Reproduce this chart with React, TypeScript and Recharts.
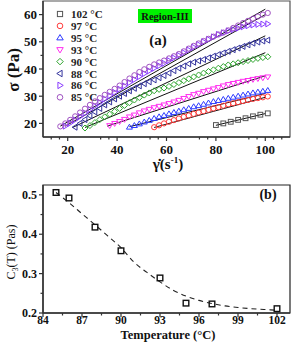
import React from "react";
import { ComposedChart, Scatter, Line, XAxis, YAxis, ReferenceArea, Customized } from "recharts";

// ---- panel (a): shear stress vs shear rate ----
const shearRate = [17, 19, 21, 23, 25, 27, 29, 31, 33, 35, 37, 39, 41, 43, 45, 47, 49, 51, 53, 55, 57, 59, 61, 63, 65, 67, 69, 71, 73, 75, 77, 79, 81, 83, 85, 87, 89, 91, 93, 95, 97, 99, 101];
const shearRate102 = [80, 83, 86, 89, 92, 95, 98, 101];

const stress85 = [18.9, 20.0, 21.3, 22.6, 24.0, 25.4, 26.8, 28.1, 29.3, 30.5, 31.6, 32.7, 33.9, 35.2, 36.5, 37.7, 38.9, 39.9, 40.8, 41.7, 42.4, 43.1, 43.9, 44.7, 45.5, 46.5, 47.5, 48.5, 49.4, 50.3, 51.1, 51.9, 52.7, 53.4, 54.2, 55.1, 56.0, 56.9, 57.7, 58.5, 59.3, 60.0, 60.6];
const stress86 = [19.0, 20.1, 21.3, 22.5, 23.8, 25.1, 26.4, 27.7, 29.0, 30.2, 31.4, 32.6, 33.8, 35.0, 36.1, 37.2, 38.3, 39.3, 40.3, 41.2, 42.1, 43.1, 44.1, 45.0, 46.0, 47.0, 48.0, 49.0, 50.0, 50.9, 51.8, 52.7, 53.3, 54.0, 54.5, 55.0, 55.5, 55.9, 56.2, 56.4, 56.5, 56.6];
const stress88 = [18.6, 20.0, 21.4, 22.8, 24.2, 25.5, 26.8, 27.9, 29.0, 30.0, 31.0, 32.0, 32.9, 33.8, 34.6, 35.3, 36.0, 36.8, 37.6, 38.5, 39.4, 40.3, 41.1, 41.9, 42.5, 43.0, 43.5, 44.1, 44.7, 45.3, 45.9, 46.5, 47.1, 47.7, 48.3, 48.9, 49.5, 49.9, 50.3, 50.6];
const stress90 = [18.3, 19.2, 20.3, 21.4, 22.4, 23.4, 24.4, 25.5, 26.6, 27.6, 28.6, 29.5, 30.4, 31.2, 32.0, 32.5, 33.0, 33.6, 34.3, 35.0, 35.7, 36.4, 37.1, 37.8, 38.5, 39.1, 39.7, 40.3, 40.9, 41.5, 41.9, 42.3, 42.7, 43.1, 43.5, 43.9, 44.2, 44.5];
const stress93 = [19.2, 20.0, 20.7, 21.5, 22.4, 23.1, 23.9, 24.6, 25.2, 25.8, 26.3, 26.8, 27.3, 27.9, 28.5, 29.2, 29.9, 30.6, 31.1, 31.7, 32.2, 32.7, 33.2, 33.8, 34.3, 34.7, 35.1, 35.5, 35.8, 36.2, 36.5, 36.8, 37.1];
const stress95 = [18.6, 19.2, 19.8, 20.5, 21.1, 21.8, 22.4, 22.9, 23.5, 24.0, 24.5, 25.0, 25.5, 26.1, 26.5, 27.0, 27.5, 28.0, 28.4, 28.8, 29.2, 29.6, 30.0, 30.4, 30.8, 31.2, 31.5, 31.8, 32.1];
const stress97 = [18.6, 19.3, 20.0, 20.6, 21.2, 21.8, 22.4, 22.9, 23.5, 24.0, 24.5, 25.0, 25.5, 26.0, 26.5, 27.0, 27.4, 27.8, 28.2, 28.6, 29.0, 29.3, 29.6, 29.9];
const stress102 = [19.4, 20.0, 20.6, 21.3, 21.9, 22.6, 23.2, 23.7];

// linear fits: start and end of each black line
const fitX0 = { 85: 17, 86: 19, 88: 22, 90: 27, 93: 36, 95: 45, 97: 55, 102: 80 };
const fitY0 = { 85: 19.0, 86: 19.0, 88: 18.5, 90: 18.5, 93: 19.0, 95: 18.8, 97: 18.5, 102: 19.3 };
const fitX1 = { 85: 100, 86: 100, 88: 100, 90: 100, 93: 100, 95: 100, 97: 100, 102: 100 };
const fitY1 = { 85: 62.0, 86: 60.0, 88: 52.2, 90: 46.0, 93: 37.5, 95: 31.0, 97: 29.6, 102: 23.6 };

const xMajorA = [20, 40, 60, 80, 100];
const yMajorA = [20, 30, 40, 50, 60];

// ---- panel (b): C3(T) vs temperature ----
const tempB = [85, 86, 88, 90, 93, 95, 97, 102];
const c3 = [0.506, 0.492, 0.418, 0.358, 0.289, 0.225, 0.223, 0.211];
const fitTemp = [85, 86, 87, 88, 89, 90, 91, 92, 93, 94, 95, 96, 97, 98, 99, 100, 101, 102];
const fitC3 = [0.506, 0.48, 0.452, 0.424, 0.395, 0.366, 0.329, 0.303, 0.279, 0.258, 0.243, 0.232, 0.224, 0.218, 0.214, 0.211, 0.209, 0.207];
const xMajorB = [84, 87, 90, 93, 96, 99, 102];
const yMajorB = [0.2, 0.3, 0.4, 0.5];

type Kind = "square" | "circle" | "up" | "down" | "diamond" | "left" | "right";

const series: { temp: number; label: string; color: string; kind: Kind; x: number[]; y: number[] }[] = [
  { temp: 102, label: "102 °C", color: "#555555", kind: "square", x: shearRate102, y: stress102 },
  { temp: 97, label: "97 °C", color: "#ff3b3b", kind: "circle", x: shearRate.slice(19), y: stress97 },
  { temp: 95, label: "95 °C", color: "#2f3bff", kind: "up", x: shearRate.slice(14), y: stress95 },
  { temp: 93, label: "93 °C", color: "#ff2ef0", kind: "down", x: shearRate.slice(10), y: stress93 },
  { temp: 90, label: "90 °C", color: "#2fa52f", kind: "diamond", x: shearRate.slice(5), y: stress90 },
  { temp: 88, label: "88 °C", color: "#34349e", kind: "left", x: shearRate.slice(3), y: stress88 },
  { temp: 86, label: "86 °C", color: "#8a3cff", kind: "right", x: shearRate.slice(1), y: stress86 },
  { temp: 85, label: "85 °C", color: "#a052c2", kind: "circle", x: shearRate, y: stress85 },
];

const serif = '"Liberation Serif", serif';
const axisColor = "#333";
const txt = (size: number, weight = 700): React.CSSProperties => ({ fontFamily: serif, fontSize: size, fontWeight: weight });

function Marker({ cx, cy, kind, color, r = 2.5, sw = 1 }: any) {
  if (cx == null || cy == null) return null;
  const st = { fill: "none", stroke: color, strokeWidth: sw };
  const k = r * 1.25;
  switch (kind as Kind) {
    case "square":
      return <rect x={cx - r} y={cy - r} width={2 * r} height={2 * r} {...st} />;
    case "circle":
      return <circle cx={cx} cy={cy} r={r + 0.2} {...st} />;
    case "up":
      return <polygon points={`${cx},${cy - k} ${cx + k},${cy + r * 0.8} ${cx - k},${cy + r * 0.8}`} {...st} />;
    case "down":
      return <polygon points={`${cx},${cy + k} ${cx + k},${cy - r * 0.8} ${cx - k},${cy - r * 0.8}`} {...st} />;
    case "left":
      return <polygon points={`${cx - k},${cy} ${cx + r * 0.8},${cy - k} ${cx + r * 0.8},${cy + k}`} {...st} />;
    case "right":
      return <polygon points={`${cx + k},${cy} ${cx - r * 0.8},${cy - k} ${cx - r * 0.8},${cy + k}`} {...st} />;
    case "diamond":
      return <polygon points={`${cx},${cy - k} ${cx + k},${cy} ${cx},${cy + k} ${cx - k},${cy}`} {...st} />;
  }
  return null;
}

function makeXTick(major: number[], fontSize: number, labelDy: number) {
  return (p: any) => {
    const v = p.payload.value;
    const isMajor = major.some((m) => Math.abs(m - v) < 1e-6);
    return (
      <g>
        <line x1={p.x} x2={p.x} y1={p.y} y2={p.y + (isMajor ? 4 : 2.5)} stroke={axisColor} strokeWidth={1.2} />
        {isMajor && (
          <text x={p.x} y={p.y + labelDy} textAnchor="middle" style={txt(fontSize)} fill="#111">
            {v}
          </text>
        )}
      </g>
    );
  };
}

function makeYTick(major: number[], fontSize: number, fmt: (v: number) => string) {
  return (p: any) => {
    const v = p.payload.value;
    const isMajor = major.some((m) => Math.abs(m - v) < 1e-6);
    return (
      <g>
        <line x1={p.x} x2={p.x - (isMajor ? 4 : 2.5)} y1={p.y} y2={p.y} stroke={axisColor} strokeWidth={1.2} />
        {isMajor && (
          <text x={p.x - 6} y={p.y + fontSize * 0.35} textAnchor="end" style={txt(fontSize)} fill="#111">
            {fmt(v)}
          </text>
        )}
      </g>
    );
  };
}

const xTicksA = [...xMajorA.flatMap((m) => [m - 20 / 3, m - 10 / 3, m]), 100 + 10 / 3, 100 + 20 / 3].filter((v) => v > 10.5 && v < 109.5);
const yTicksA = [...yMajorA.flatMap((m) => [m - 5, m]), 65].filter((v) => v > 15.5 && v < 64.5);
const xTicksB = xMajorB.flatMap((m) => [m, m + 1.5]).filter((v) => v < 103);
const yTicksB = yMajorB.flatMap((m) => [m, m + 0.05]).filter((v) => v < 0.52);

function AnnotationsA() {
  return (
    <g>
      {series.map((s, i) => (
        <g key={s.temp}>
          <Marker cx={60} cy={14 + i * 11.9} kind={s.kind} color={s.color} r={2.6} />
          <text x={71} y={14 + i * 11.9 + 4} style={txt(11)} fill="#222">
            {s.label}
          </text>
        </g>
      ))}
      <rect x={138} y={9} width={54} height={14} fill="#00f000" />
      <text x={165} y={19.8} textAnchor="middle" style={txt(10.5)} fill="#111">
        Region-III
      </text>
      <text x={158} y={45} textAnchor="middle" style={txt(15)} fill="#111">
        (a)
      </text>
      <text transform="translate(19,70) rotate(-90)" textAnchor="middle" style={txt(17)} fill="#111">
        σ (Pa)
      </text>
      <text x={168} y={169} textAnchor="middle" style={txt(15)} fill="#111">
        {"\u03b3\u0307(s"}
        <tspan style={{ fontSize: 9 }} dy={-6}>-1</tspan>
        <tspan dy={6}>)</tspan>
      </text>
    </g>
  );
}

function AnnotationsB() {
  return (
    <g>
      <text x={268} y={27} textAnchor="middle" style={txt(14)} fill="#111">
        (b)
      </text>
      <text x={168} y={167} textAnchor="middle" style={txt(12.5)} fill="#111">
        Temperature (°C)
      </text>
      <text transform="translate(15,80) rotate(-90)" textAnchor="middle" style={txt(12, 400)} fill="#111">
        C<tspan style={{ fontSize: 8 }} dy={3}>3</tspan>
        <tspan dy={-3}>(T) (Pas)</tspan>
      </text>
    </g>
  );
}

export default function App() {
  return (
    <div style={{ position: "absolute", left: 0, top: 0, width: 294, height: 344, background: "#fff" }}>
      <ComposedChart width={294} height={172} margin={{ top: 1, right: 4, bottom: 0, left: 0 }}>
        <XAxis
          type="number"
          dataKey="x"
          domain={[10, 110]}
          ticks={xTicksA}
          interval={0}
          allowDataOverflow
          height={35}
          tickSize={0}
          tickMargin={0}
          tickLine={false}
          axisLine={{ stroke: axisColor, strokeWidth: 1.4 }}
          tick={makeXTick(xMajorA, 13, 17)}
        />
        <YAxis
          type="number"
          dataKey="y"
          domain={[15, 65]}
          ticks={yTicksA}
          interval={0}
          allowDataOverflow
          width={43}
          tickSize={0}
          tickMargin={0}
          tickLine={false}
          axisLine={{ stroke: axisColor, strokeWidth: 1.4 }}
          tick={makeYTick(yMajorA, 13, (v) => String(v))}
        />
        <ReferenceArea x1={10} x2={110} y1={15} y2={65} fill="none" stroke="#555" strokeWidth={1.2} ifOverflow="visible" />
        {series.map((s) => (
          <Scatter
            key={`s${s.temp}`}
            name={s.label}
            data={s.x.map((x, i) => ({ x, y: s.y[i] }))}
            isAnimationActive={false}
            shape={(p: any) => <Marker cx={p.cx} cy={p.cy} kind={s.kind} color={s.color} r={2.4} />}
          />
        ))}
        {series.map((s) => (
          <Line
            key={`f${s.temp}`}
            data={[
              { x: (fitX0 as any)[s.temp], y: (fitY0 as any)[s.temp] },
              { x: (fitX1 as any)[s.temp], y: (fitY1 as any)[s.temp] },
            ]}
            dataKey="y"
            type="linear"
            stroke="#111"
            strokeWidth={1}
            dot={false}
            activeDot={false}
            isAnimationActive={false}
          />
        ))}
        <Customized component={AnnotationsA} />
      </ComposedChart>
      <ComposedChart width={294} height={172} margin={{ top: 13, right: 4, bottom: 0, left: 0 }}>
        <XAxis
          type="number"
          dataKey="x"
          domain={[84, 103]}
          ticks={xTicksB}
          interval={0}
          allowDataOverflow
          height={31}
          tickSize={0}
          tickMargin={0}
          tickLine={false}
          axisLine={{ stroke: axisColor, strokeWidth: 1.4 }}
          tick={makeXTick(xMajorB, 11.5, 11)}
        />
        <YAxis
          type="number"
          dataKey="y"
          domain={[0.2, 0.525]}
          ticks={yTicksB}
          interval={0}
          allowDataOverflow
          width={43}
          tickSize={0}
          tickMargin={0}
          tickLine={false}
          axisLine={{ stroke: axisColor, strokeWidth: 1.4 }}
          tick={makeYTick(yMajorB, 12, (v) => v.toFixed(1))}
        />
        <ReferenceArea x1={84} x2={103} y1={0.2} y2={0.525} fill="none" stroke="#222" strokeWidth={1.2} ifOverflow="visible" />
        <Line
          data={fitTemp.map((x, i) => ({ x, y: fitC3[i] }))}
          dataKey="y"
          type="monotone"
          stroke="#222"
          strokeWidth={1.1}
          strokeDasharray="5 4"
          dot={false}
          activeDot={false}
          isAnimationActive={false}
        />
        <Scatter
          name="C3"
          data={tempB.map((x, i) => ({ x, y: c3[i] }))}
          isAnimationActive={false}
          shape={(p: any) => <Marker cx={p.cx} cy={p.cy} kind="square" color="#111" r={2.8} sw={1.4} />}
        />
        <Customized component={AnnotationsB} />
      </ComposedChart>
    </div>
  );
}
